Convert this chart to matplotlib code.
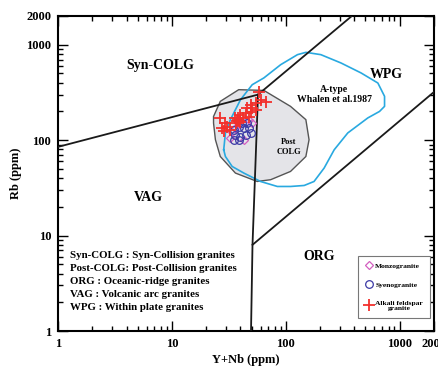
import matplotlib
matplotlib.use("Agg")
import matplotlib.pyplot as plt
from matplotlib.ticker import FixedLocator, LogLocator, NullFormatter

plt.rcParams["font.family"] = ["Liberation Serif", "DejaVu Serif"]
plt.rcParams["font.weight"] = "bold"

# --- discrimination boundaries (Pearce et al. 1984)
vag_syn_x = [1, 57]
vag_syn_y = [85, 300]
syn_wpg_x = [57, 380]
syn_wpg_y = [300, 2000]
vag_wpg_x = [57, 51, 49.5]
vag_wpg_y = [300, 8, 1]
org_wpg_x = [51, 2000]
org_wpg_y = [8, 320]

# post-COLG field (grey)
post_x = [23.2, 26.6, 38.6, 64.2, 110, 150, 160, 150, 110, 73.6, 56.1, 36.1, 26.6, 24.1, 23.2]
post_y = [177, 255, 338, 332, 226, 164, 101, 67.4, 47.0, 38.5, 36.9, 45.2, 67.4, 101, 151]

# A-type field (Whalen et al. 1987), blue contour
atype_x = [28.5, 29.5, 32.6, 40.0, 50.7, 64.2, 90.2, 126.6, 150, 203, 305, 458, 643, 736,
           736, 665, 525, 350, 266, 217, 177, 145, 110, 84.3, 60, 42.8, 33.8, 29.5, 28.5]
atype_y = [79.3, 118.7, 163.7, 265, 381, 449, 618, 787, 832, 787, 644, 506, 397, 288,
           226, 200, 171, 119, 79.3, 51, 36.9, 33.5, 32.7, 32.7, 36.9, 45.2, 53, 67.4, 79.3]

# samples
monzo_x = [50.7, 33.8, 32.6, 42.8, 47.3, 36.1]
monzo_y = [152, 123, 105, 101, 164, 134]

syeno_x = [34.9, 38.6, 42.8, 47.3, 36.1, 40.0, 44.3, 49.0, 34.9, 38.6, 45.7, 41.4]
syeno_y = [129, 139, 134, 134, 114, 109, 114, 119, 101, 101, 152, 152]

alkali_x = [57.6, 66.4, 60.0, 54.2, 49.0, 45.5, 51.0, 54.2, 49.0, 44.3, 40.0, 42.5, 38.4,
            36.1, 26.6, 29.5, 27.7, 30.7, 28.5, 40.0, 36.8, 47.1, 32.6, 38.0, 39.0, 37.5]
alkali_y = [322, 253, 265, 245, 235, 219, 219, 208, 199, 194, 185, 172, 164,
            172, 172, 152, 135, 138, 125, 156, 152, 176, 129, 170, 160, 158]

ticks = [1, 10, 100, 1000, 2000]
tick_labels = ["1", "10", "100", "1000", "2000"]

fig = plt.figure(figsize=(4.38, 3.67), dpi=100)
ax = fig.add_axes([58 / 438, 1 - 331 / 367, 376 / 438, 315 / 367])
ax.set_xscale("log")
ax.set_yscale("log")
ax.set_xlim(1, 2000)
ax.set_ylim(1, 2000)

# fields
ax.fill(post_x, post_y, facecolor="#e4e4e8", edgecolor="#555555", lw=1.0, zorder=1)
ax.plot(atype_x, atype_y, color="#29a9e0", lw=1.2, zorder=2)

for xs, ys in [(vag_syn_x, vag_syn_y), (syn_wpg_x, syn_wpg_y),
               (vag_wpg_x, vag_wpg_y), (org_wpg_x, org_wpg_y)]:
    ax.plot(xs, ys, color="#1a1a1a", lw=1.3, zorder=3)

ax.plot(monzo_x, monzo_y, ls="none", marker="D", ms=4.2, mfc="none", mec="#d35fc0",
        mew=0.9, label="Monzogranite", zorder=4)
ax.plot(syeno_x, syeno_y, ls="none", marker="o", ms=5.5, mfc="none", mec="#3c3aa6",
        mew=0.9, label="Syenogranite", zorder=5)
ax.plot(alkali_x, alkali_y, ls="none", marker="+", ms=9, color="#f2302c", mew=1.3,
        label="Alkali feldspar\ngranite", zorder=6)

# field names
ax.text(7.9, 600, "Syn-COLG", fontsize=10, ha="center", va="center")
ax.text(6.2, 25, "VAG", fontsize=10, ha="center", va="center")
ax.text(760, 490, "WPG", fontsize=10, ha="center", va="center")
ax.text(195, 6.0, "ORG", fontsize=10, ha="center", va="center")
ax.text(265, 300, "A-type\nWhalen et al.1987", fontsize=7, ha="center", va="center",
        linespacing=1.1)
ax.text(106, 85, "Post\nCOLG", fontsize=6, ha="center", va="center", linespacing=1.3)

abbrev = ("Syn-COLG : Syn-Collision granites\n"
          "Post-COLG: Post-Collision granites\n"
          "ORG : Oceanic-ridge granites\n"
          "VAG : Volcanic arc granites\n"
          "WPG : Within plate granites")
ax.text(0.032, 0.253, abbrev, transform=ax.transAxes, fontsize=7.8, ha="left",
        va="top", linespacing=1.55)

leg = ax.legend(loc="lower right", bbox_to_anchor=(0.989, 0.041), fontsize=5.4,
                frameon=True, fancybox=False, edgecolor="#777777", framealpha=1,
                handlelength=1.0, handletextpad=0.4, borderpad=0.9, labelspacing=1.7,
                borderaxespad=0)
leg.get_frame().set_linewidth(0.8)
for t in leg.get_texts():
    t.set_multialignment("center")

# axes styling
for side in ax.spines.values():
    side.set_linewidth(1.5)
for axis in (ax.xaxis, ax.yaxis):
    axis.set_major_locator(FixedLocator(ticks))
    axis.set_minor_locator(LogLocator(base=10, subs=range(2, 10)))
    axis.set_minor_formatter(NullFormatter())
ax.set_xticklabels(tick_labels)
ax.set_yticklabels(tick_labels)
ax.tick_params(which="both", direction="in", top=True, right=True, width=1.0)
ax.tick_params(which="major", length=7, labelsize=9, pad=5)
ax.tick_params(which="minor", length=3.5)

ax.set_xlabel("Y+Nb (ppm)", fontsize=9, fontweight="bold", labelpad=3)
ax.set_ylabel("Rb (ppm)", fontsize=9, fontweight="bold", labelpad=3)

fig.savefig("out.png", dpi=100)
